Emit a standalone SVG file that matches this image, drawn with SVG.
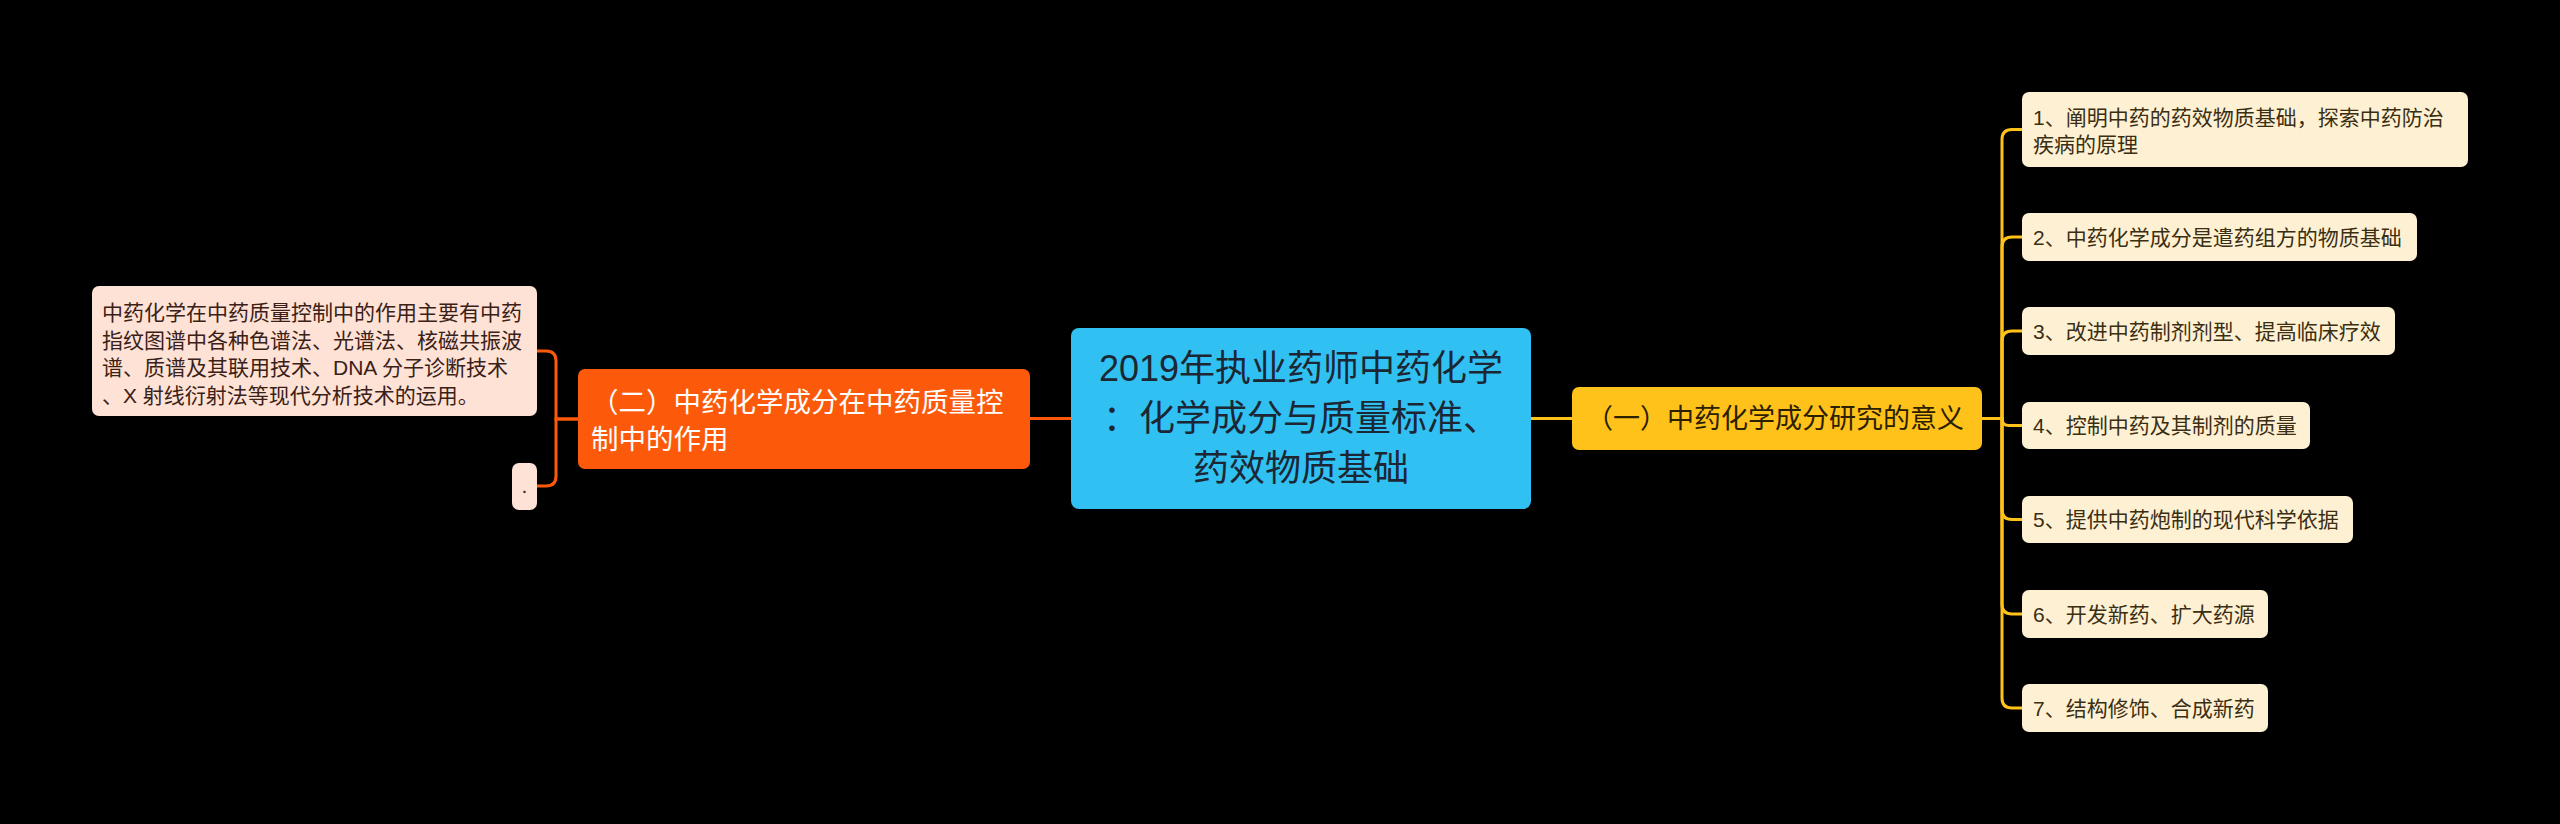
<svg xmlns="http://www.w3.org/2000/svg" width="2560" height="824" viewBox="0 0 2560 824">
<style>
text{font-family:"Liberation Sans","Noto Sans CJK SC",sans-serif}
.c{fill:none;stroke-width:3;stroke-linecap:round}
.o{stroke:#FC5A0A}
.y{stroke:#FFC21A}
.leafR rect{fill:#FEF1D3}
.leafR text{font-size:21px;fill:#3b2e12}
.leafL rect{fill:#FDE2D5}
.leafL text{font-size:21px;fill:#3a2016}
</style>
<rect width="2560" height="824" fill="#000"/>
<g id="connectors">
<path class="c o" d="M1071,418.5 H1030"/>
<path class="c y" d="M1531,418.5 H1572"/>
<path class="c o" d="M578,419 H556 V361 Q556,351 546,351 H537"/>
<path class="c o" d="M578,419 H556 V476 Q556,486 546,486 H537"/>
<path class="c y" d="M1982,418.5 H2002 V139.5 Q2002,129.5 2012,129.5 H2022"/>
<path class="c y" d="M1982,418.5 H2002 V247 Q2002,237 2012,237 H2022"/>
<path class="c y" d="M1982,418.5 H2002 V341 Q2002,331 2012,331 H2022"/>
<path class="c y" d="M1982,418.5 H2002 Q2002,425.5 2009,425.5 H2022"/>
<path class="c y" d="M1982,418.5 H2002 V509.5 Q2002,519.5 2012,519.5 H2022"/>
<path class="c y" d="M1982,418.5 H2002 V604 Q2002,614 2012,614 H2022"/>
<path class="c y" d="M1982,418.5 H2002 V698 Q2002,708 2012,708 H2022"/>
</g>
<g id="center">
<rect x="1071" y="328" width="460" height="181" rx="8" fill="#30C1F2"/>
<text x="1301" y="381" font-size="36" fill="#1c2733" text-anchor="middle">2019年执业药师中药化学</text>
<text x="1301" y="431" font-size="36" fill="#1c2733" text-anchor="middle">：化学成分与质量标准、</text>
<text x="1301" y="481" font-size="36" fill="#1c2733" text-anchor="middle">药效物质基础</text>
</g>
<g id="branch2">
<rect x="578" y="369" width="452" height="100" rx="7" fill="#FC5A0A"/>
<text x="591" y="412" font-size="27.5" fill="#fff">（二）中药化学成分在中药质量控</text>
<text x="591" y="449" font-size="27.5" fill="#fff">制中的作用</text>
</g>
<g id="branch1">
<rect x="1572" y="387" width="410" height="63" rx="7" fill="#FFC21A"/>
<text x="1586" y="428" font-size="27" fill="#2b2000">（一）中药化学成分研究的意义</text>
</g>
<g id="leftLeaf1" class="leafL">
<rect x="92" y="286" width="445" height="130" rx="7"/>
<text x="102" y="320">中药化学在中药质量控制中的作用主要有中药</text>
<text x="102" y="347.5">指纹图谱中各种色谱法、光谱法、核磁共振波</text>
<text x="102" y="375">谱、质谱及其联用技术、DNA 分子诊断技术</text>
<text x="102" y="402.5">、X 射线衍射法等现代分析技术的运用。</text>
</g>
<g id="leftLeaf2" class="leafL">
<rect x="512" y="463" width="25" height="47" rx="7"/>
<text x="524.5" y="493" text-anchor="middle">.</text>
</g>
<g id="r1" class="leafR">
<rect x="2022" y="92" width="446" height="75" rx="7"/>
<text x="2033" y="124.5">1、阐明中药的药效物质基础，探索中药防治</text>
<text x="2033" y="152">疾病的原理</text>
</g>
<g id="r2" class="leafR">
<rect x="2022" y="213" width="395" height="48" rx="7"/>
<text x="2033" y="244.5">2、中药化学成分是遣药组方的物质基础</text>
</g>
<g id="r3" class="leafR">
<rect x="2022" y="307" width="373" height="48" rx="7"/>
<text x="2033" y="338.5">3、改进中药制剂剂型、提高临床疗效</text>
</g>
<g id="r4" class="leafR">
<rect x="2022" y="402" width="288" height="47" rx="7"/>
<text x="2033" y="433">4、控制中药及其制剂的质量</text>
</g>
<g id="r5" class="leafR">
<rect x="2022" y="496" width="331" height="47" rx="7"/>
<text x="2033" y="527">5、提供中药炮制的现代科学依据</text>
</g>
<g id="r6" class="leafR">
<rect x="2022" y="590" width="246" height="48" rx="7"/>
<text x="2033" y="621.5">6、开发新药、扩大药源</text>
</g>
<g id="r7" class="leafR">
<rect x="2022" y="684" width="246" height="48" rx="7"/>
<text x="2033" y="715.5">7、结构修饰、合成新药</text>
</g>
</svg>
